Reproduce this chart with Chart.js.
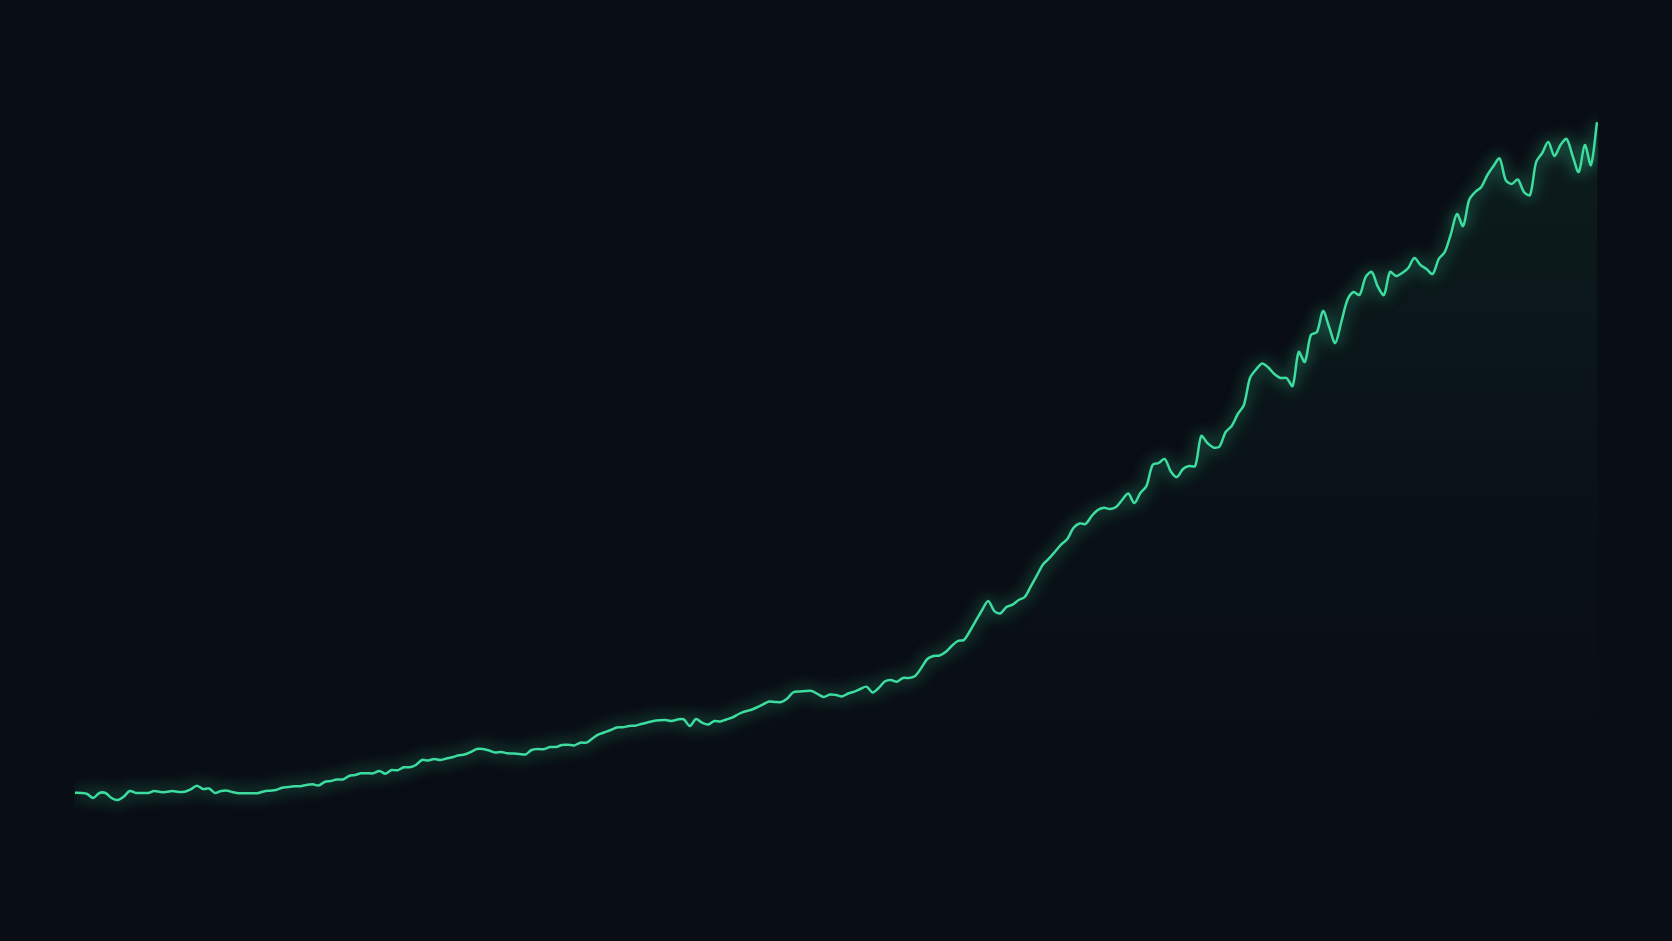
<!DOCTYPE html>
<html>
<head>
<meta charset="utf-8">
<script src="https://cdn.jsdelivr.net/npm/chart.js@4.4.1/dist/chart.umd.min.js"></script>
<style>
  html, body { margin: 0; padding: 0; background: #090d14; }
  #wrap { width: 1672px; height: 941px; position: relative; }
</style>
</head>
<body>
<div id="wrap"><canvas id="c"></canvas></div>
<script>
const seriesValues = [
  101.0, 100.5, 99.0, 93.0, 100.5, 100.5, 93.0, 90.0, 95.0, 103.5,
  100.5, 100.5, 100.5, 103.5, 102.0, 102.0, 103.5, 102.0, 102.5, 105.8,
  111.5, 106.5, 107.3, 100.5, 103.5, 104.0, 101.6, 100.1, 100.1, 100.1,
  100.1, 102.8, 104.0, 105.0, 108.5, 109.5, 110.6, 110.6, 112.5, 113.6,
  111.8, 117.0, 118.5, 120.8, 120.8, 126.0, 127.5, 130.1, 130.1, 130.1,
  133.5, 129.5, 135.0, 134.6, 139.1, 139.1, 142.5, 150.0, 149.3, 151.5,
  150.0, 152.3, 154.1, 157.1, 158.3, 162.0, 166.5, 166.5, 164.3, 161.3,
  162.0, 160.1, 159.8, 159.0, 158.3, 165.0, 166.5, 166.1, 169.5, 169.5,
  172.5, 173.0, 171.8, 176.0, 176.0, 182.3, 188.3, 191.6, 195.0, 198.8,
  199.1, 201.0, 201.5, 204.0, 206.3, 208.5, 209.7, 210.0, 208.5, 210.8,
  210.8, 201.0, 211.5, 206.0, 203.3, 208.5, 207.8, 210.8, 213.8, 219.0,
  222.8, 225.0, 228.8, 233.3, 237.8, 237.0, 237.0, 242.3, 251.6, 252.8,
  253.5, 253.5, 249.0, 244.5, 248.3, 247.5, 245.3, 249.8, 252.5, 256.5,
  260.0, 251.3, 258.0, 267.8, 270.0, 267.5, 273.0, 273.0, 276.0, 288.0,
  301.5, 306.0, 306.8, 312.0, 321.0, 328.5, 330.0, 343.5, 359.3, 375.0,
  388.5, 373.5, 369.8, 379.5, 383.0, 390.0, 394.5, 410.3, 426.8, 443.3,
  452.3, 462.8, 473.3, 481.5, 498.0, 504.8, 504.0, 516.0, 525.0, 528.5,
  526.5, 529.5, 540.0, 549.8, 535.5, 550.5, 561.0, 592.5, 595.5, 601.5,
  582.8, 574.5, 586.5, 591.0, 591.0, 636.0, 625.5, 618.8, 620.3, 642.0,
  651.0, 669.0, 682.5, 723.0, 735.8, 744.8, 738.8, 729.0, 723.0, 723.0,
  711.0, 762.0, 747.0, 787.5, 792.0, 823.5, 799.5, 775.5, 807.0, 840.0,
  852.0, 847.5, 874.5, 882.0, 860.0, 847.5, 882.0, 876.0, 880.5, 888.0,
  903.0, 892.5, 886.5, 879.0, 901.5, 912.0, 939.0, 969.0, 951.0, 990.0,
  1002.0, 1009.5, 1027.5, 1041.0, 1052.3, 1020.0, 1014.0, 1020.8, 1002.0, 997.5,
  1047.0, 1060.5, 1077.0, 1056.0, 1072.5, 1081.5, 1056.0, 1032.0, 1072.5, 1042.5,
  1106.6
];
const categories = seriesValues.map((_, i) => 'Day ' + (i + 1));

const lineColor = '#3ddc9f';
const yMin = 0;
const yMax = 1290;

const glowPlugin = {
  id: 'glow',
  beforeDatasetDraw(chart) {
    const ctx = chart.ctx;
    ctx.save();
    ctx.shadowColor = 'rgba(61, 220, 159, 0.95)';
    ctx.shadowBlur = 16;
    ctx.shadowOffsetX = 0;
    ctx.shadowOffsetY = 0;
  },
  afterDatasetDraw(chart) {
    chart.ctx.restore();
  }
};

new Chart(document.getElementById('c'), {
  type: 'line',
  data: {
    labels: categories,
    datasets: [{
      data: seriesValues,
      borderColor: lineColor,
      borderWidth: 2.5,
      pointRadius: 0,
      tension: 0.3,
      fill: 'start',
      backgroundColor(context) {
        const { chart } = context;
        const area = chart.chartArea;
        if (!area) return 'rgba(61,220,159,0.06)';
        const g = chart.ctx.createLinearGradient(0, area.top, 0, area.bottom);
        g.addColorStop(0, 'rgba(61, 220, 159, 0.09)');
        g.addColorStop(0.6, 'rgba(61, 220, 159, 0.025)');
        g.addColorStop(1, 'rgba(61, 220, 159, 0)');
        return g;
      }
    }]
  },
  options: {
    responsive: true,
    maintainAspectRatio: false,
    animation: false,
    layout: { padding: { left: 75, right: 75, top: 0, bottom: 81 } },
    plugins: {
      legend: { display: false },
      tooltip: { enabled: false }
    },
    scales: {
      x: { display: false, offset: false },
      y: { display: false, min: yMin, max: yMax }
    }
  },
  plugins: [glowPlugin]
});
</script>
</body>
</html>
